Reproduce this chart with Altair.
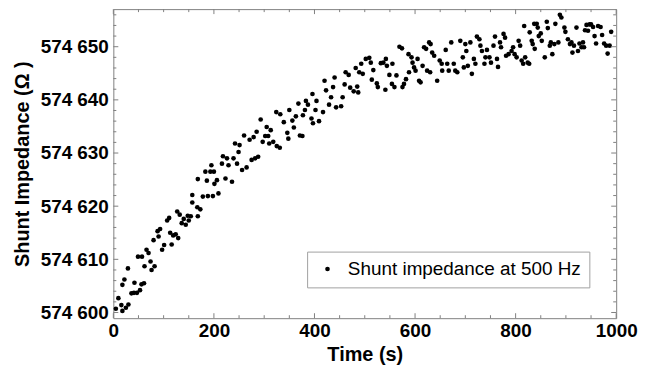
import altair as alt
import pandas as pd

time_s = [5, 10, 16, 18, 25, 30, 18, 22, 29, 36, 41, 42, 47, 53, 56, 61, 49, 57, 62, 66,
          70, 74, 76, 82, 80, 88, 90, 93, 97, 101, 107, 111, 113, 116, 119, 124, 129, 127, 132, 136,
          140, 144, 148, 150, 154, 157,
          157, 167, 173, 168, 168, 178, 183, 186, 188, 193, 195, 198, 201, 206, 209, 200, 216, 218, 223, 226,
          229, 236, 239, 242, 246, 249, 251, 256, 260, 265, 271, 275, 279, 282, 285, 288, 293, 297, 302, 305,
          308, 310, 313,
          318, 325, 331, 324, 332, 339, 346, 348, 350, 356, 359, 363, 368, 371, 376, 377, 381, 383, 387, 394,
          396, 397, 402, 404, 409, 417, 420, 423, 429, 433, 437, 440, 443, 453, 456, 460, 462, 468, 471, 478,
          482, 485,
          489, 493, 496, 487, 502, 509, 512, 517, 514, 524, 526, 532, 537, 542, 544, 541, 549, 554, 555, 559,
          563, 569, 574, 578, 575, 582, 588, 587, 593, 595, 598, 601, 605, 608, 611, 615, 618, 622, 624, 628,
          631, 630, 634, 638, 644, 649, 653, 654, 661, 664,
          667, 672, 677, 680, 684, 690, 695, 697, 700, 702, 705, 710, 713, 717, 720, 723, 728, 730, 733, 738,
          740, 743, 748, 751, 756, 759, 763, 765, 769, 771, 776, 779, 781, 786, 792, 795, 798, 802, 806, 809,
          812, 815, 819, 824, 827, 828, 817, 832, 834, 838, 837,
          842, 844, 846, 850, 852, 858, 862, 864, 868, 870, 873, 877, 879, 885, 888, 891, 897, 899, 904, 908,
          911, 913, 916, 921, 924, 927, 931, 934, 936, 938, 941, 944, 947, 950, 954, 957, 960, 964, 969, 972,
          976, 980, 983, 987, 990]

impedance = [574600.7, 574602.7, 574601.4, 574600.3, 574600.9, 574601.5, 574605.2, 574606.2, 574608.3, 574603.6,
             574603.7, 574605.6, 574603.7, 574604.2, 574605.3, 574605.5, 574610.5, 574610.5, 574608.7, 574611.8,
             574611.2, 574609.6, 574608.0, 574608.7, 574613.6, 574615.3, 574614.3, 574615.7, 574611.8, 574612.7,
             574617.3, 574617.8, 574615.0, 574612.8, 574614.5, 574614.7, 574614.0, 574619.0, 574618.4, 574616.8,
             574617.6, 574616.5, 574618.2, 574617.3, 574618.1, 574620.7,
             574622.1, 574619.8, 574619.4, 574618.1, 574625.1, 574621.8, 574626.5, 574624.8, 574621.9, 574626.5,
             574627.7, 574621.9, 574624.2, 574624.9, 574622.4, 574626.5, 574628.0, 574629.4, 574625.2, 574629.0,
             574627.7, 574624.6, 574629.0, 574631.8, 574628.0, 574630.2, 574631.5, 574626.8, 574633.3, 574627.3,
             574632.5, 574628.7, 574633.0, 574629.0, 574634.0, 574629.3, 574636.3, 574632.1, 574633.2, 574634.9,
             574633.2, 574631.8, 574634.3,
             574632.1, 574631.3, 574631.0, 574637.7, 574637.3, 574635.8, 574633.8, 574632.7, 574638.1, 574636.1,
             574634.8, 574636.9, 574639.3, 574633.3, 574633.2, 574637.1, 574638.1, 574639.8, 574639.1, 574636.5,
             574641.1, 574635.6, 574638.1, 574639.8, 574636.0, 574637.7, 574643.6, 574641.8, 574639.1, 574640.5,
             574642.4, 574644.2, 574638.6, 574638.8, 574640.5, 574642.9, 574645.2, 574644.7, 574642.3, 574641.6,
             574646.0, 574642.5,
             574645.2, 574646.8, 574644.9, 574641.4, 574647.7, 574647.9, 574647.0, 574645.6, 574643.8, 574643.1,
             574642.4, 574646.9, 574647.0, 574647.7, 574646.4, 574641.9, 574644.7, 574643.0, 574646.8, 574642.4,
             574644.6, 574650.0, 574649.7, 574643.0, 574642.4, 574643.9, 574645.2, 574648.6, 574648.0, 574647.0,
             574646.1, 574645.5, 574647.7, 574643.6, 574643.3, 574646.4, 574649.9, 574649.6, 574645.5, 574650.8,
             574650.5, 574645.2, 574648.9, 574648.3, 574643.6, 574647.4, 574646.8, 574645.5, 574649.4, 574646.8,
             574645.5, 574650.8, 574646.8, 574645.5, 574645.2, 574651.1, 574648.0, 574646.1, 574650.5, 574649.2,
             574646.4, 574650.8, 574644.9, 574647.7, 574646.8, 574651.9, 574651.4, 574650.2, 574649.2, 574646.8,
             574648.0, 574649.4, 574648.0, 574647.0, 574650.2, 574651.9, 574647.7, 574646.2, 574650.8, 574649.9,
             574652.4, 574651.7, 574648.3, 574648.6, 574649.2, 574649.9, 574648.6, 574648.0, 574651.1, 574650.2,
             574647.4, 574646.8, 574648.0, 574647.0, 574646.8, 574652.7, 574653.9, 574651.1, 574650.5, 574649.6,
             574654.3,
             574654.3, 574653.6, 574652.0, 574652.5, 574651.1, 574648.0, 574654.7, 574653.5, 574650.2, 574650.8,
             574648.6, 574650.5, 574654.3, 574650.8, 574656.0, 574655.5, 574653.6, 574652.8, 574651.4, 574650.5,
             574650.8, 574648.9, 574650.2, 574653.6, 574649.2, 574650.6, 574649.9, 574650.8, 574649.9, 574653.1,
             574654.1, 574653.0, 574654.2, 574654.2, 574653.7, 574652.0, 574650.6, 574653.9, 574653.7, 574652.2,
             574650.6, 574650.2, 574648.7, 574650.2, 574652.8]

series_name = "Shunt impedance at 500 Hz"

x_major_ticks = [0, 200, 400, 600, 800, 1000]
x_minor_ticks = [50, 100, 150, 250, 300, 350, 450, 500, 550, 650, 700, 750, 850, 900, 950]
y_major_ticks = [574600, 574610, 574620, 574630, 574640, 574650]
y_minor_ticks = [574602, 574604, 574606, 574608, 574612, 574614, 574616, 574618,
                 574622, 574624, 574626, 574628, 574632, 574634, 574636, 574638,
                 574642, 574644, 574646, 574648, 574652, 574654, 574656]
x_domain = [0, 1000]
y_domain = [574598.93, 574657.07]

W, H = 506, 311
FRAME = "#808080"
FONT = "Liberation Sans"

df = pd.DataFrame({"t": time_s, "z": impedance, "series": series_name})
xs = alt.Scale(domain=x_domain, nice=False, zero=False)
ys = alt.Scale(domain=y_domain, nice=False, zero=False)

common_axis = dict(domain=False, grid=False, ticks=False, labelFlush=False, labelOverlap=False,
                   labelFont=FONT, labelFontWeight="bold", labelFontSize=19, labelColor="black",
                   titleFont=FONT, titleFontWeight="bold", titleFontSize=20, titleColor="black")
x_axis = alt.Axis(title="Time (s)", values=x_major_ticks, format="d",
                  labelPadding=3, titlePadding=5, **common_axis)
y_axis = alt.Axis(title="Shunt Impedance (Ω )", values=y_major_ticks,
                  labelExpr="replace(format(datum.value, ','), ',', ' ')",
                  labelPadding=5, titlePadding=8, **common_axis)


def y_tick_layer(vals, length, side):
    d = pd.DataFrame({"z": vals})
    x0, x1 = (0, length) if side == "left" else (W - length, W)
    return alt.Chart(d).mark_rule(color=FRAME, strokeWidth=1).encode(
        y=alt.Y("z:Q", scale=ys, axis=y_axis),
        x=alt.value(x0), x2=alt.value(x1))


def x_tick_layer(vals, length, side):
    d = pd.DataFrame({"t": vals})
    y0, y1 = (H - length, H) if side == "bottom" else (0, length)
    return alt.Chart(d).mark_rule(color=FRAME, strokeWidth=1).encode(
        x=alt.X("t:Q", scale=xs, axis=x_axis),
        y=alt.value(y0), y2=alt.value(y1))


points = alt.Chart(df).mark_circle(size=22, opacity=1).encode(
    x=alt.X("t:Q", scale=xs, axis=x_axis),
    y=alt.Y("z:Q", scale=ys, axis=y_axis),
    color=alt.Color("series:N", scale=alt.Scale(range=["black"]),
                    legend=alt.Legend(title=None, orient="none", legendX=195, legendY=244,
                                      padding=8, strokeColor="#a0a0a0", fillColor="white",
                                      symbolOffset=3, labelOffset=11, labelFontSize=19,
                                      labelFont=FONT, labelColor="black", symbolType="circle",
                                      symbolSize=22, labelLimit=400, cornerRadius=0,
                                      symbolStrokeWidth=0)),
)

ticks = [
    y_tick_layer(y_major_ticks, 5, "left"), y_tick_layer(y_minor_ticks, 3, "left"),
    y_tick_layer(y_major_ticks, 5, "right"), y_tick_layer(y_minor_ticks, 3, "right"),
    x_tick_layer(x_major_ticks, 5, "bottom"), x_tick_layer(x_minor_ticks, 3, "bottom"),
    x_tick_layer(x_major_ticks, 5, "top"), x_tick_layer(x_minor_ticks, 3, "top"),
]

chart = alt.layer(points, *ticks).properties(
    width=W, height=H,
    autosize=alt.AutoSizeParams(type="none"),
    padding={"left": 106, "top": 0, "right": 30, "bottom": 50},
).configure_view(stroke=FRAME, strokeWidth=1)

chart.save("out.html", embed_options={"renderer": "svg", "actions": False})
